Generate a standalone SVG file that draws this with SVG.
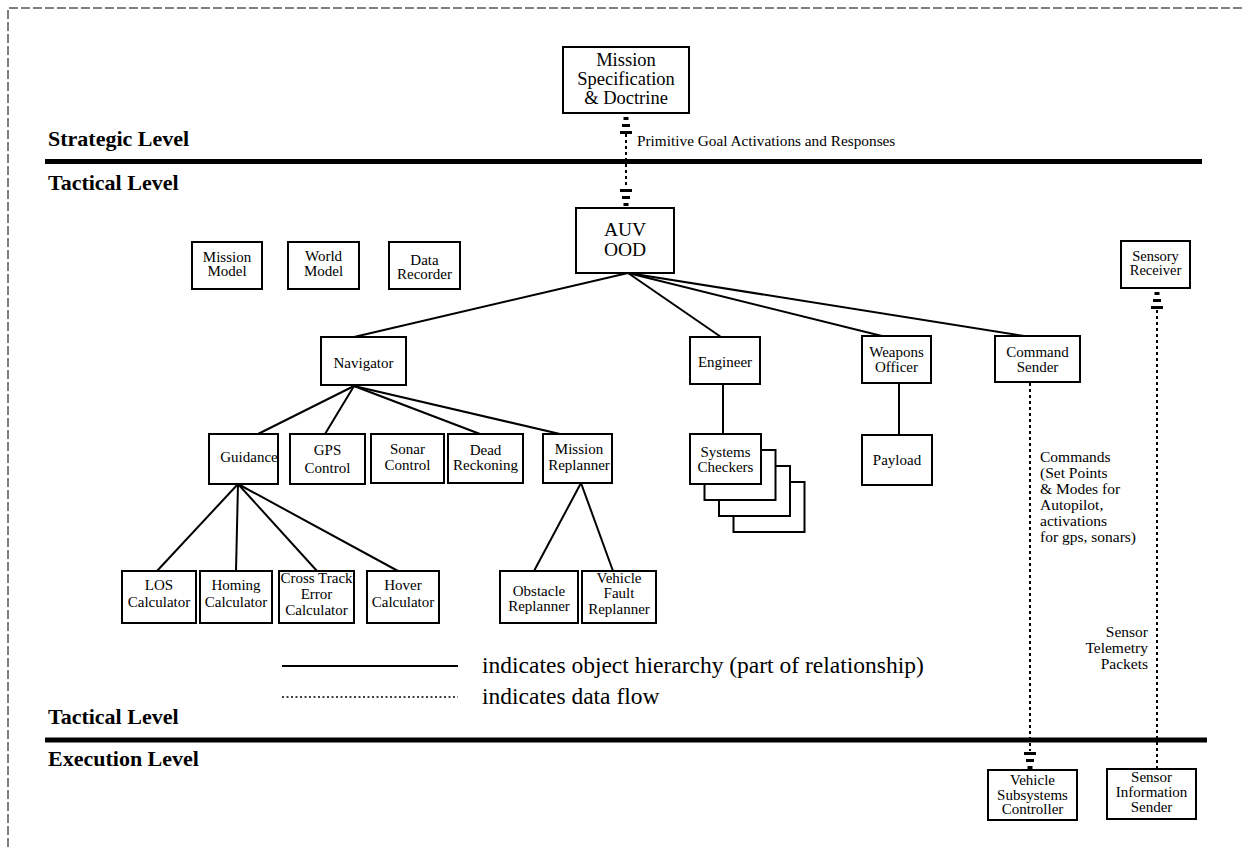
<svg xmlns="http://www.w3.org/2000/svg" width="1242" height="847" viewBox="0 0 1242 847">
<style>
.box{fill:#fff;stroke:#000;stroke-width:2}
.t{font-family:"Liberation Serif","Times New Roman",serif;fill:#000;text-anchor:middle;font-size:15px}
.big{font-size:18.5px}
.lvl{font-family:"Liberation Serif","Times New Roman",serif;font-size:22px;font-weight:bold;fill:#000}
.h{stroke:#000;stroke-width:2;fill:none}
.df{stroke:#000;stroke-width:2;stroke-dasharray:3 3;fill:none}
.bar{stroke:#000;stroke-width:5}
.frame{stroke:#000;stroke-width:1;stroke-dasharray:9 3;fill:none}
</style>
<defs>
<g id="ahUp">
<rect x="-2.5" y="0" width="5" height="3"/>
<rect x="-4" y="7" width="8" height="3"/>
<rect x="-6" y="14" width="12" height="3"/>
</g>
</defs>
<rect width="1242" height="847" fill="#fff"/>
<path class="frame" d="M8,847 V8 H1242"/>

<g id="levels">
<text class="lvl" x="48" y="146">Strategic Level</text>
<line class="bar" x1="45" y1="161.5" x2="1202" y2="161.5"/>
<text class="lvl" x="48" y="190">Tactical Level</text>
<text class="lvl" x="48" y="724">Tactical Level</text>
<line class="bar" x1="45" y1="740" x2="1207" y2="740"/>
<text class="lvl" x="48" y="766">Execution Level</text>
</g>

<g id="connectors">
<line class="h" x1="628" y1="273" x2="354" y2="337"/>
<line class="h" x1="628" y1="273" x2="721" y2="337"/>
<line class="h" x1="628" y1="273" x2="882" y2="336"/>
<line class="h" x1="628" y1="273" x2="1024" y2="336"/>
<line class="h" x1="354" y1="386" x2="258" y2="434"/>
<line class="h" x1="354" y1="386" x2="325" y2="434"/>
<line class="h" x1="354" y1="386" x2="480" y2="434"/>
<line class="h" x1="354" y1="386" x2="560" y2="434"/>
<line class="h" x1="238" y1="484" x2="157" y2="571"/>
<line class="h" x1="238" y1="484" x2="236" y2="571"/>
<line class="h" x1="238" y1="484" x2="317" y2="571"/>
<line class="h" x1="238" y1="484" x2="398" y2="571"/>
<line class="h" x1="581" y1="483" x2="534" y2="571"/>
<line class="h" x1="581" y1="483" x2="613" y2="571"/>
<line class="h" x1="723" y1="384" x2="723" y2="434"/>
<line class="h" x1="899" y1="383" x2="899" y2="435"/>
<line class="df" x1="626" y1="134" x2="626" y2="186"/>
<use href="#ahUp" x="626" y="117"/>
<use href="#ahUp" transform="translate(626,206) scale(1,-1)"/>
<line class="df" x1="1030" y1="383" x2="1030" y2="751"/>
<use href="#ahUp" transform="translate(1030,769) scale(1,-1)"/>
<line class="df" x1="1157" y1="310" x2="1157" y2="769"/>
<use href="#ahUp" x="1157" y="292"/>
<text class="t" x="637" y="146" style="text-anchor:start;font-size:15.3px">Primitive Goal Activations and Responses</text>
<text class="t" style="text-anchor:start;font-size:15.5px" x="1040" y="462">Commands</text>
<text class="t" style="text-anchor:start;font-size:15.5px" x="1040" y="478">(Set Points</text>
<text class="t" style="text-anchor:start;font-size:15.5px" x="1040" y="494">&amp; Modes for</text>
<text class="t" style="text-anchor:start;font-size:15.5px" x="1040" y="510">Autopilot,</text>
<text class="t" style="text-anchor:start;font-size:15.5px" x="1040" y="526">activations</text>
<text class="t" style="text-anchor:start;font-size:15.5px" x="1040" y="542">for gps, sonars)</text>
<text class="t" style="text-anchor:end;font-size:15.5px" x="1148" y="637">Sensor</text>
<text class="t" style="text-anchor:end;font-size:15.5px" x="1148" y="653">Telemetry</text>
<text class="t" style="text-anchor:end;font-size:15.5px" x="1148" y="669">Packets</text>
</g>

<g id="legend">
<line class="h" x1="282" y1="666" x2="458" y2="666"/>
<line x1="282" y1="697" x2="458" y2="697" stroke="#000" stroke-width="1.5" stroke-dasharray="2 2.5"/>
<text class="t" style="text-anchor:start;font-size:23.5px" x="482" y="673">indicates object hierarchy (part of relationship)</text>
<text class="t" style="text-anchor:start;font-size:23.5px" x="482" y="704">indicates data flow</text>
</g>

<g id="mission-spec"><rect class="box" x="563" y="47" width="126" height="66"/>
<text class="t big" x="626" y="66">Mission</text><text class="t big" x="626" y="85">Specification</text><text class="t big" x="626" y="104">&amp; Doctrine</text></g>

<g id="auv-ood"><rect class="box" x="576" y="208" width="98" height="65"/>
<text class="t" style="font-size:19.5px" x="625" y="236">AUV</text><text class="t" style="font-size:19.5px" x="625" y="256">OOD</text></g>

<g id="mission-model"><rect class="box" x="192" y="242" width="70" height="47"/>
<text class="t" x="227" y="262">Mission</text><text class="t" x="227" y="276">Model</text></g>
<g id="world-model"><rect class="box" x="288" y="242" width="71" height="47"/>
<text class="t" x="323.5" y="261">World</text><text class="t" x="323.5" y="276">Model</text></g>
<g id="data-recorder"><rect class="box" x="389" y="242" width="71" height="47"/>
<text class="t" x="424.5" y="265">Data</text><text class="t" x="424.5" y="279">Recorder</text></g>

<g id="sensory-receiver"><rect class="box" x="1121" y="241" width="69" height="47"/>
<text class="t" style="font-size:14.5px" x="1155.5" y="261">Sensory</text><text class="t" style="font-size:14.5px" x="1155.5" y="275">Receiver</text></g>

<g id="navigator"><rect class="box" x="321" y="337" width="85" height="48"/>
<text class="t" x="363.5" y="368">Navigator</text></g>
<g id="engineer"><rect class="box" x="690" y="337" width="70" height="47"/>
<text class="t" x="725" y="367">Engineer</text></g>
<g id="weapons-officer"><rect class="box" x="862" y="336" width="69" height="47"/>
<text class="t" x="896.5" y="357">Weapons</text><text class="t" x="896.5" y="372">Officer</text></g>
<g id="command-sender"><rect class="box" x="995" y="336" width="85" height="46"/>
<text class="t" x="1037.5" y="357">Command</text><text class="t" x="1037.5" y="372">Sender</text></g>

<g id="guidance"><rect class="box" x="209" y="434" width="69" height="50"/>
<text class="t" x="249" y="462">Guidance</text></g>
<g id="gps-control"><rect class="box" x="290" y="434" width="75" height="50"/>
<text class="t" x="327.5" y="455">GPS</text><text class="t" x="327.5" y="473">Control</text></g>
<g id="sonar-control"><rect class="box" x="371" y="434" width="73" height="49"/>
<text class="t" x="407.5" y="454">Sonar</text><text class="t" x="407.5" y="470">Control</text></g>
<g id="dead-reckoning"><rect class="box" x="448" y="434" width="75" height="49"/>
<text class="t" x="485.5" y="455">Dead</text><text class="t" x="485.5" y="470">Reckoning</text></g>
<g id="mission-replanner"><rect class="box" x="543" y="434" width="69" height="49"/>
<text class="t" x="579" y="454">Mission</text><text class="t" x="579" y="470">Replanner</text></g>

<g id="systems-checkers">
<rect class="box" x="733.5" y="482" width="71" height="50"/>
<rect class="box" x="719" y="466" width="71" height="50"/>
<rect class="box" x="704.5" y="450" width="71" height="50"/>
<rect class="box" x="690" y="434" width="71" height="50"/>
<text class="t" x="725.5" y="457">Systems</text><text class="t" x="725.5" y="472">Checkers</text></g>
<g id="payload"><rect class="box" x="862" y="435" width="70" height="50"/>
<text class="t" x="897" y="465">Payload</text></g>

<g id="los-calculator"><rect class="box" x="122" y="571" width="74" height="52"/>
<text class="t" x="159" y="590">LOS</text><text class="t" x="159" y="607">Calculator</text></g>
<g id="homing-calculator"><rect class="box" x="200" y="571" width="72" height="52"/>
<text class="t" x="236" y="590">Homing</text><text class="t" x="236" y="607">Calculator</text></g>
<g id="cross-track"><rect class="box" x="279" y="571" width="75" height="52"/>
<text class="t" x="316.5" y="583">Cross Track</text><text class="t" x="316.5" y="599">Error</text><text class="t" x="316.5" y="615">Calculator</text></g>
<g id="hover-calculator"><rect class="box" x="367" y="571" width="72" height="52"/>
<text class="t" x="403" y="590">Hover</text><text class="t" x="403" y="607">Calculator</text></g>
<g id="obstacle-replanner"><rect class="box" x="500" y="571" width="78" height="52"/>
<text class="t" x="539" y="596">Obstacle</text><text class="t" x="539" y="611">Replanner</text></g>
<g id="vehicle-fault-replanner"><rect class="box" x="582" y="571" width="74" height="52"/>
<text class="t" x="619" y="583">Vehicle</text><text class="t" x="619" y="598">Fault</text><text class="t" x="619" y="614">Replanner</text></g>

<g id="vehicle-subsystems-controller"><rect class="box" x="988" y="770" width="89" height="50"/>
<text class="t" x="1032.5" y="785">Vehicle</text><text class="t" x="1032.5" y="800">Subsystems</text><text class="t" x="1032.5" y="814">Controller</text></g>
<g id="sensor-information-sender"><rect class="box" x="1107" y="769" width="89" height="50"/>
<text class="t" x="1151.5" y="782">Sensor</text><text class="t" x="1151.5" y="797">Information</text><text class="t" x="1151.5" y="812">Sender</text></g>
</svg>
